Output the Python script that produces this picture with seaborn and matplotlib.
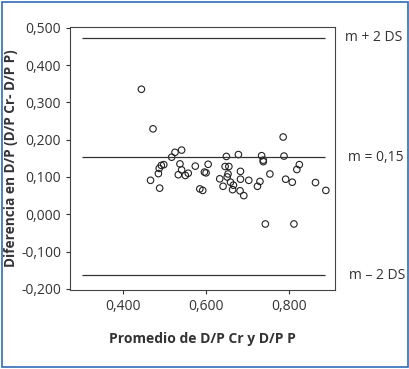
import matplotlib.pyplot as plt
import matplotlib.patches as patches
import seaborn as sns

# promedio (x) y diferencia (y)
promedio = [0.444, 0.472, 0.466, 0.485, 0.488, 0.487, 0.492, 0.498, 0.517, 0.525,
            0.541, 0.537, 0.541, 0.533, 0.550, 0.557, 0.574, 0.585, 0.592, 0.596,
            0.600, 0.605, 0.633, 0.641, 0.649, 0.646, 0.655, 0.653, 0.651, 0.659,
            0.664, 0.666, 0.678, 0.683, 0.683, 0.682, 0.691, 0.703, 0.724, 0.730,
            0.734, 0.738, 0.738, 0.754, 0.743, 0.786, 0.788, 0.792, 0.808, 0.812,
            0.819, 0.825, 0.864, 0.889]
diferencia = [0.335, 0.229, 0.091, 0.109, 0.070, 0.123, 0.131, 0.133, 0.153, 0.166,
              0.172, 0.135, 0.119, 0.106, 0.104, 0.110, 0.129, 0.068, 0.064, 0.113,
              0.111, 0.134, 0.095, 0.075, 0.155, 0.128, 0.128, 0.108, 0.100, 0.086,
              0.066, 0.078, 0.160, 0.115, 0.094, 0.063, 0.050, 0.091, 0.075, 0.088,
              0.157, 0.145, 0.141, 0.108, -0.026, 0.207, 0.156, 0.094, 0.086, -0.026,
              0.120, 0.133, 0.085, 0.064]

media = 0.153
lim_sup = 0.473
lim_inf = -0.163
etiquetas = ["m + 2 DS", "m = 0,15", "m \u2013 2 DS"]

sns.set_theme(style="ticks")
plt.rcParams['font.family'] = ['Open Sans', 'DejaVu Sans']

fig = plt.figure(figsize=(4.10, 3.69), dpi=100)
ax = fig.add_axes([0.171, 0.214, 0.646, 0.714])

sns.scatterplot(x=promedio, y=diferencia, ax=ax, marker="o", s=22,
                facecolor="none", edgecolor="#222222", linewidth=0.8)

for val, txt, dx in zip([lim_sup, media, lim_inf], etiquetas, [0, 0.007, 0.01]):
    ax.hlines(val, 0.30, 0.887, color="#333333", linewidth=0.9)
    ax.text(0.935 + dx, val, txt, fontsize=10, color="#333333", va="center",
            ha="left", transform=ax.transData, clip_on=False)

ax.set_xlim(0.272, 0.911)
ax.set_ylim(-0.203, 0.503)
ax.set_xticks([0.4, 0.6, 0.8])
ax.set_xticklabels(["0,400", "0,600", "0,800"])
ax.set_yticks([-0.2, -0.1, 0.0, 0.1, 0.2, 0.3, 0.4, 0.5])
ax.set_yticklabels(["-0,200", "-0,100", "0,000", "0,100", "0,200", "0,300",
                    "0,400", "0,500"])
ax.tick_params(labelsize=10, labelcolor="#333333", length=3, width=0.8,
               color="#333333")
for s in ax.spines.values():
    s.set_color("#444444")
    s.set_linewidth(0.8)

ax.set_xlabel("Promedio de D/P Cr y D/P P", fontsize=10, fontweight="bold",
              color="#333333", labelpad=13)
ax.set_ylabel("Diferencia en D/P (D/P Cr- D/P P)", fontsize=9.8,
              fontweight="bold", color="#333333", labelpad=2)

# marco azul del recuadro
fig.patches.append(patches.Rectangle((0.006, 0.006), 0.988, 0.988,
                                     transform=fig.transFigure, fill=False,
                                     edgecolor="#2f6db5", linewidth=1.2))

fig.savefig("out.png", dpi=100)
